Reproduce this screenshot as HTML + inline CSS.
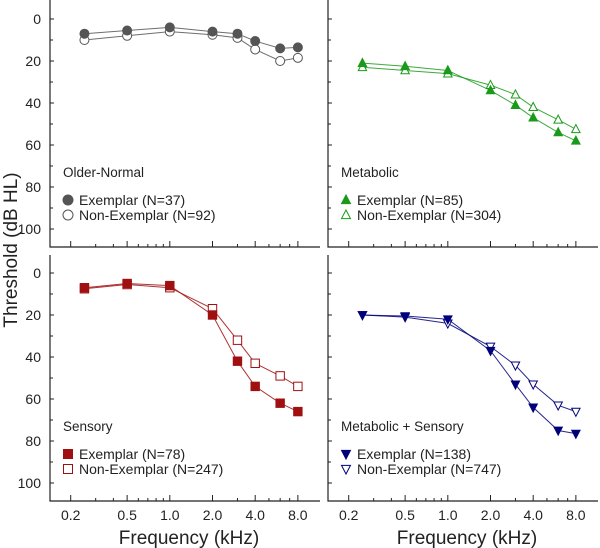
<!DOCTYPE html>
<html><head><meta charset="utf-8"><style>
html,body{margin:0;padding:0;background:#fff;}
svg{display:block;font-family:"Liberation Sans",sans-serif;}
</style></head><body>
<svg id="chart" width="600" height="548" viewBox="0 0 600 548"></svg>
<script>
const freqs = [0.25,0.5,1,2,3,4,6,8];
const xTickVals = [0.2,0.5,1.0,2.0,4.0,8.0];
const xTickLabels = ["0.2","0.5","1.0","2.0","4.0","8.0"];
const yTickVals = [0,20,40,60,80,100];
const onExemplar = [7,5.5,4,6,7,10.5,14,13.5];
const onNon = [10,8,6,7.5,9,14.5,20,18.5];
const metExemplar = [21,22.5,24.5,34,41,47,54,58];
const metNon = [23,24.5,26,31.5,36,42,48,52.5];
const senExemplar = [7,5,6,20,42,54,62,66];
const senNon = [7.5,5.5,7,17,32,43,49,54];
const msExemplar = [20,20.5,22,37,53,64,75,76.5];
const msNon = [20,21,24,35,44,53,63,66];

const NS="http://www.w3.org/2000/svg";
const svg=document.getElementById('chart');
function mk(tag,attrs,parent){const e=document.createElementNS(NS,tag);for(const k in attrs)e.setAttribute(k,attrs[k]);(parent||svg).appendChild(e);return e;}

const panels=[
 {name:'older-normal',x0:50,x1:320,y0:0,y1:247,zero:19,title:'Older-Normal',col:'#555',marker:'circle',ex:onExemplar,non:onNon,nEx:'Exemplar (N=37)',nNon:'Non-Exemplar (N=92)',leftAxis:true,bottomLabels:false},
 {name:'metabolic',x0:328,x1:598,y0:0,y1:247,zero:19,title:'Metabolic',col:'#1a9a1a',marker:'up',ex:metExemplar,non:metNon,nEx:'Exemplar (N=85)',nNon:'Non-Exemplar (N=304)',leftAxis:false,bottomLabels:false},
 {name:'sensory',x0:50,x1:320,y0:255,y1:501,zero:273,title:'Sensory',col:'#a01010',marker:'square',ex:senExemplar,non:senNon,nEx:'Exemplar (N=78)',nNon:'Non-Exemplar (N=247)',leftAxis:true,bottomLabels:true},
 {name:'metabolic-sensory',x0:328,x1:598,y0:255,y1:501,zero:273,title:'Metabolic + Sensory',col:'#00007a',marker:'down',ex:msExemplar,non:msNon,nEx:'Exemplar (N=138)',nNon:'Non-Exemplar (N=747)',leftAxis:false,bottomLabels:true}
];
const PXDEC=141.8, PXDB=2.1;

function marker(g,type,cx,cy,col,filled,s){
 const fill=filled?col:'#fff';
 let e;
 if(type==='circle') e=mk('circle',{cx:cx,cy:cy,r:s,fill:fill,stroke:col,'stroke-width':1},g);
 else if(type==='square') e=mk('rect',{x:cx-s,y:cy-s,width:2*s,height:2*s,fill:fill,stroke:col,'stroke-width':1},g);
 else if(type==='up') e=mk('polygon',{points:`${cx},${cy-s-0.5} ${cx-s},${cy+s*0.8} ${cx+s},${cy+s*0.8}`,fill:fill,stroke:col,'stroke-width':1},g);
 else e=mk('polygon',{points:`${cx},${cy+s+0.5} ${cx-s},${cy-s*0.8} ${cx+s},${cy-s*0.8}`,fill:fill,stroke:col,'stroke-width':1},g);
 return e;
}

panels.forEach(p=>{
 const g=mk('g',{});
 
 
 const xs=f=>p.x0+20.7+Math.log10(f/0.2)*PXDEC;
 const ys=v=>p.zero+v*PXDB;
 const ax=mk('path',{d:`M${p.x0},${p.y0} V${p.y1} H${p.x1}`,fill:'none',stroke:'#222','stroke-width':1.2},g);
 
 
 for(let v=0;v<=100;v+=10){
  mk('line',{x1:p.x0,x2:p.x0+(v%20===0?4:3),y1:ys(v),y2:ys(v),stroke:'#222','stroke-width':1},g);
 }
 if(p.leftAxis){
  yTickVals.forEach(v=>{
   const t=mk('text',{x:p.x0-9,y:ys(v)+5,'text-anchor':'end','font-size':14,fill:'#222'},g);
   t.textContent=v;
   
   
  });
 }
 const minor=[0.2,0.3,0.4,0.5,0.6,0.7,0.8,0.9,1,2,3,4,5,6,7,8];
 minor.forEach(f=>{
  const major=xTickVals.indexOf(f)>=0;
  mk('line',{x1:xs(f),x2:xs(f),y1:p.y1,y2:p.y1-(major?6:3),stroke:'#222','stroke-width':1},g);
 });
 if(p.bottomLabels){
  xTickVals.forEach((f,i)=>{
   const t=mk('text',{x:xs(f),y:p.y1+19,'text-anchor':'middle','font-size':14,fill:'#222'},g);
   t.textContent=xTickLabels[i];
   
   
  });
  const xl=mk('text',{x:(p.x0+p.x1)/2+4,y:544,'text-anchor':'middle','font-size':19,fill:'#222'},g);
  xl.textContent='Frequency (kHz)';
  
  
 }
 [[p.non,false,'non-exemplar'],[p.ex,true,'exemplar']].forEach(([arr,filled,nm])=>{
  const pts=freqs.map((f,i)=>xs(f)+','+ys(arr[i])).join(' ');
  const pl=mk('polyline',{points:pts,fill:'none',stroke:p.col,'stroke-width':1,opacity:0.85},g);
  
  
  freqs.forEach((f,i)=>{
   const m=marker(g,p.marker,xs(f),ys(arr[i]),p.col,filled,p.marker==='circle'?4.5:4.2);
   
   
  });
 });
 const lx=p.x0+15;
 const ty=p.y1-70;
 const tt=mk('text',{x:p.x0+13,y:ty,'font-size':13.5,fill:'#222'},g);
 tt.textContent=p.title;
 
 
 [[p.nEx,true,ty+28],[p.nNon,false,ty+43]].forEach(([lab,filled,yy])=>{
  const m=marker(g,p.marker,lx+3,yy-5,p.col,filled,p.marker==='circle'?5:4.5);
  
  
  const t=mk('text',{x:lx+14,y:yy,'font-size':14,fill:'#222'},g);
  t.textContent=lab;
  
  
 });
});
const yl=mk('text',{x:0,y:0,'text-anchor':'middle','font-size':19,fill:'#222',transform:'translate(17,250) rotate(-90)'});
yl.textContent='Threshold (dB HL)';


</script>
</body></html>
